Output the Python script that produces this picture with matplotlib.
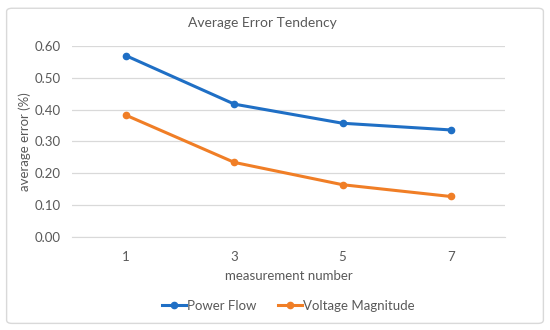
import matplotlib
matplotlib.use("Agg")
import matplotlib.pyplot as plt
from matplotlib.patches import FancyBboxPatch

categories = ["1", "3", "5", "7"]
power_flow = [0.569, 0.417, 0.357, 0.336]
voltage_magnitude = [0.382, 0.234, 0.164, 0.127]
yticks = [0.0, 0.1, 0.2, 0.3, 0.4, 0.5, 0.6]

plt.rcParams['font.family'] = ['Lato', 'DejaVu Sans']
txt = '#595959'

fig = plt.figure(figsize=(5.5, 3.3), dpi=100)
fig.patches.append(FancyBboxPatch((0.012, 0.02), 0.976, 0.955, boxstyle="round,pad=0,rounding_size=0.01",
                                  transform=fig.transFigure, fill=False, edgecolor='#d9d9d9', linewidth=1))
ax = fig.add_axes([0.131, 0.282, 0.787, 0.579])

x = range(len(categories))
ax.plot(x, power_flow, color='#1f6fc5', linewidth=2.2, marker='o', markersize=4.5, label='Power Flow')
ax.plot(x, voltage_magnitude, color='#f07e26', linewidth=2.2, marker='o', markersize=4.5, label='Voltage Magnitude')

ax.set_xlim(-0.5, len(categories) - 0.5)
ax.set_ylim(0, 0.6)
ax.set_yticks(yticks)
ax.set_yticklabels([f"{v:.2f}" for v in yticks])
ax.set_xticks(list(x))
ax.set_xticklabels(categories)
ax.grid(axis='y', color='#d9d9d9', linewidth=0.9)
ax.set_axisbelow(True)
for s in ['top', 'right', 'left']:
    ax.spines[s].set_visible(False)
ax.spines['bottom'].set_color('#d9d9d9')
ax.tick_params(axis='both', length=0, colors=txt, labelsize=9.5)
ax.tick_params(axis='x', pad=10)
ax.tick_params(axis='y', pad=8)
ax.set_xlabel('measurement number', color=txt, fontsize=9.5, labelpad=5)
ax.set_ylabel('average error (%)', color=txt, fontsize=9.5, labelpad=3)
fig.text(262 / 550, 1 - 23 / 330, 'Average Error Tendency', color=txt, fontsize=10,
         ha='center', va='center')
ax.legend(loc='center', bbox_to_anchor=(0.5, -0.36), ncol=2, frameon=False,
          fontsize=9.5, labelcolor=txt, handlelength=1.8, handletextpad=0.1, columnspacing=1.6)

fig.savefig('out.png', dpi=100)
